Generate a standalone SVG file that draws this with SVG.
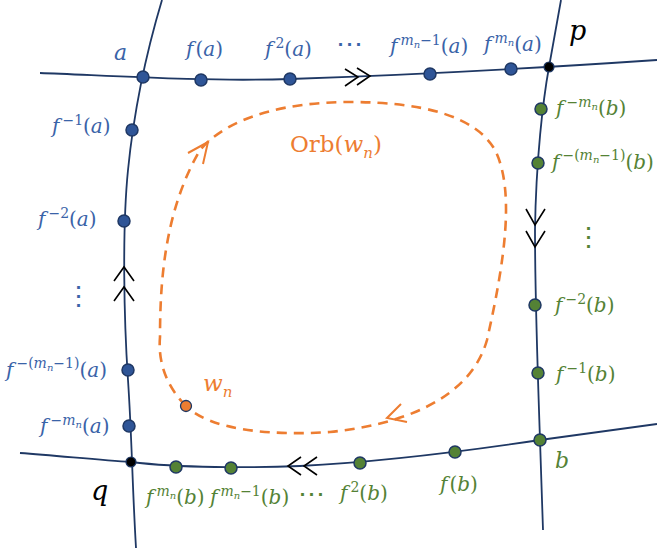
<svg xmlns="http://www.w3.org/2000/svg" width="657" height="548" viewBox="0 0 657 548">
<style>
.ln{fill:none;stroke:#1F3864;stroke-width:1.8}
.ch{fill:none;stroke:#000;stroke-width:1.6}
.orb{fill:none;stroke:#ED7D31;stroke-width:2.6;stroke-dasharray:10 7}
.oa{fill:none;stroke:#ED7D31;stroke-width:2}
.bd{fill:#2F5597;stroke:#1F3864;stroke-width:1.5}
.gd{fill:#548235;stroke:#1F3864;stroke-width:1.5}
.kd{fill:#000;stroke:#1F3864;stroke-width:1.2}
text{font-family:"DejaVu Serif","Liberation Serif",serif;font-size:20px}
.b{fill:#3A63A8}
.g{fill:#548235}
.o{fill:#ED7D31}
.k{fill:#000}
.i{font-style:italic}
.s{font-size:14px}
.ss{font-size:10px}
.big{font-size:27px}
.lab{font-size:22px}
.orbt{font-size:23px}
.sub{font-size:15px}
.dt{font-size:27px}
</style>
<g id="connectors">
<path class="ln" d="M40,73 C100,75 200,82 290,79 S480,72 657,60"/>
<path class="ln" d="M162,0 C150,40 135,100 128,170 C122,230 124,320 128,380 S132,480 136,548"/>
<path class="ln" d="M561,0 L549,67 C543,100 536,160 535,230 C535,300 538,380 540,440 L543,530"/>
<path class="ln" d="M20,453 C60,456 100,460 131,462 C180,468 250,468 300,466 C380,462 460,452 540,440 L657,424"/>
<path class="ch" d="M345,69 L358,77 L345,86 M357,68 L370,76 L357,85"/>
<path class="ch" d="M114,281 L124,267 L134,281 M114,301 L124,287 L134,301"/>
<path class="ch" d="M526,209 L535,225 L545,209 M526,231 L535,247 L545,231"/>
<path class="ch" d="M301,457 L288,466 L301,475 M317,457 L304,466 L317,475"/>
<path class="orb" d="M186,406 C165,385 158,360 160,337 C160,280 165,210 200,150 C230,115 290,102 350,102 C420,102 475,115 495,150 C515,190 505,260 487,340 C470,400 400,425 330,432 C270,436 210,430 186,406 Z"/>
<path class="oa" d="M188,153 L208,142 L203,164"/>
<path class="oa" d="M401,404 L387,418 L407,422"/>
</g>
<g id="nodes">
<g id="a"><circle class="bd" cx="143" cy="77" r="6"/><text class="b i lab" x="114" y="60">a</text></g>
<g id="fa"><circle class="bd" cx="201" cy="80" r="6"/><text class="b" x="186" y="56"><tspan class="i">f</tspan><tspan dx="2">(</tspan><tspan class="i">a</tspan>)</text></g>
<g id="f2a"><circle class="bd" cx="290" cy="79" r="6"/><text class="b" x="265" y="56"><tspan class="i">f</tspan><tspan class="s" dx="3" dy="-8">2</tspan><tspan dy="8">(</tspan><tspan class="i">a</tspan>)</text></g>
<g id="dots-top"><text class="b dt" x="336" y="53">⋯</text></g>
<g id="fmn1a"><circle class="bd" cx="430" cy="74" r="6"/><text class="b" x="390" y="53"><tspan class="i">f</tspan><tspan class="s i" dx="3" dy="-8">m</tspan><tspan class="ss i" dy="3">n</tspan><tspan class="s" dy="-3">−1</tspan><tspan dy="8">(</tspan><tspan class="i">a</tspan>)</text></g>
<g id="fmna"><circle class="bd" cx="511" cy="69" r="6"/><text class="b" x="484" y="51"><tspan class="i">f</tspan><tspan class="s i" dx="3" dy="-8">m</tspan><tspan class="ss i" dy="3">n</tspan><tspan dy="5">(</tspan><tspan class="i">a</tspan>)</text></g>
<g id="p"><circle class="kd" cx="549" cy="67" r="5"/><text class="k i big" x="569" y="40">p</text></g>
<g id="fm1a"><circle class="bd" cx="132" cy="130" r="6"/><text class="b" x="52" y="133"><tspan class="i">f</tspan><tspan class="s" dx="3" dy="-8">−1</tspan><tspan dy="8">(</tspan><tspan class="i">a</tspan>)</text></g>
<g id="fm2a"><circle class="bd" cx="124" cy="221" r="6"/><text class="b" x="38" y="226"><tspan class="i">f</tspan><tspan class="s" dx="3" dy="-8">−2</tspan><tspan dy="8">(</tspan><tspan class="i">a</tspan>)</text></g>
<g id="vdots-a"><text class="b dt" x="65" y="305">⋮</text></g>
<g id="fmmn1a"><circle class="bd" cx="128" cy="370" r="6"/><text class="b" x="6" y="377"><tspan class="i">f</tspan><tspan class="s" dx="3" dy="-9">−(</tspan><tspan class="s i">m</tspan><tspan class="ss i" dy="3">n</tspan><tspan class="s" dy="-3">−1)</tspan><tspan dy="9">(</tspan><tspan class="i">a</tspan>)</text></g>
<g id="fmmna"><circle class="bd" cx="129" cy="426" r="6"/><text class="b" x="40" y="433"><tspan class="i">f</tspan><tspan class="s" dx="3" dy="-8">−</tspan><tspan class="s i">m</tspan><tspan class="ss i" dy="3">n</tspan><tspan dy="5">(</tspan><tspan class="i">a</tspan>)</text></g>
<g id="q"><circle class="kd" cx="131" cy="462" r="5"/><text class="k i big" x="91" y="500">q</text></g>
<g id="fmnb"><circle class="gd" cx="176" cy="467" r="6"/><text class="g" x="146" y="504"><tspan class="i">f</tspan><tspan class="s i" dx="3" dy="-8">m</tspan><tspan class="ss i" dy="3">n</tspan><tspan dy="5">(</tspan><tspan class="i">b</tspan>)</text></g>
<g id="fmn1b"><circle class="gd" cx="231" cy="468" r="6"/><text class="g" x="210" y="504"><tspan class="i">f</tspan><tspan class="s i" dx="3" dy="-8">m</tspan><tspan class="ss i" dy="3">n</tspan><tspan class="s" dy="-3">−1</tspan><tspan dy="8">(</tspan><tspan class="i">b</tspan>)</text></g>
<g id="dots-bot"><text class="g dt" x="298" y="503">⋯</text></g>
<g id="f2b"><circle class="gd" cx="360" cy="463" r="6"/><text class="g" x="340" y="500"><tspan class="i">f</tspan><tspan class="s" dx="3" dy="-8">2</tspan><tspan dy="8">(</tspan><tspan class="i">b</tspan>)</text></g>
<g id="fb"><circle class="gd" cx="455" cy="452" r="6"/><text class="g" x="440" y="491"><tspan class="i">f</tspan><tspan dx="2">(</tspan><tspan class="i">b</tspan>)</text></g>
<g id="b"><circle class="gd" cx="540" cy="440" r="6"/><text class="g i lab" x="555" y="468">b</text></g>
<g id="fm1b"><circle class="gd" cx="538" cy="373" r="6"/><text class="g" x="556" y="381"><tspan class="i">f</tspan><tspan class="s" dx="3" dy="-8">−1</tspan><tspan dy="8">(</tspan><tspan class="i">b</tspan>)</text></g>
<g id="fm2b"><circle class="gd" cx="535" cy="305" r="6"/><text class="g" x="555" y="312"><tspan class="i">f</tspan><tspan class="s" dx="3" dy="-8">−2</tspan><tspan dy="8">(</tspan><tspan class="i">b</tspan>)</text></g>
<g id="vdots-b"><text class="g dt" x="575" y="246">⋮</text></g>
<g id="fmmn1b"><circle class="gd" cx="538" cy="163" r="6"/><text class="g" x="552" y="169"><tspan class="i">f</tspan><tspan class="s" dx="3" dy="-9">−(</tspan><tspan class="s i">m</tspan><tspan class="ss i" dy="3">n</tspan><tspan class="s" dy="-3">−1)</tspan><tspan dy="9">(</tspan><tspan class="i">b</tspan>)</text></g>
<g id="fmmnb"><circle class="gd" cx="541" cy="109" r="6"/><text class="g" x="556" y="115"><tspan class="i">f</tspan><tspan class="s" dx="3" dy="-8">−</tspan><tspan class="s i">m</tspan><tspan class="ss i" dy="3">n</tspan><tspan dy="5">(</tspan><tspan class="i">b</tspan>)</text></g>
<g id="wn"><circle cx="186" cy="406" r="5.5" fill="#ED7D31" stroke="#1F3864" stroke-width="1.3"/><text class="o i orbt" x="203" y="391">w<tspan class="sub" dy="6">n</tspan></text></g>
<g id="orb"><text class="o orbt" x="290" y="152">Orb(<tspan class="i">w</tspan><tspan class="i sub" dy="6">n</tspan><tspan dy="-6">)</tspan></text></g>
</g>
</svg>
